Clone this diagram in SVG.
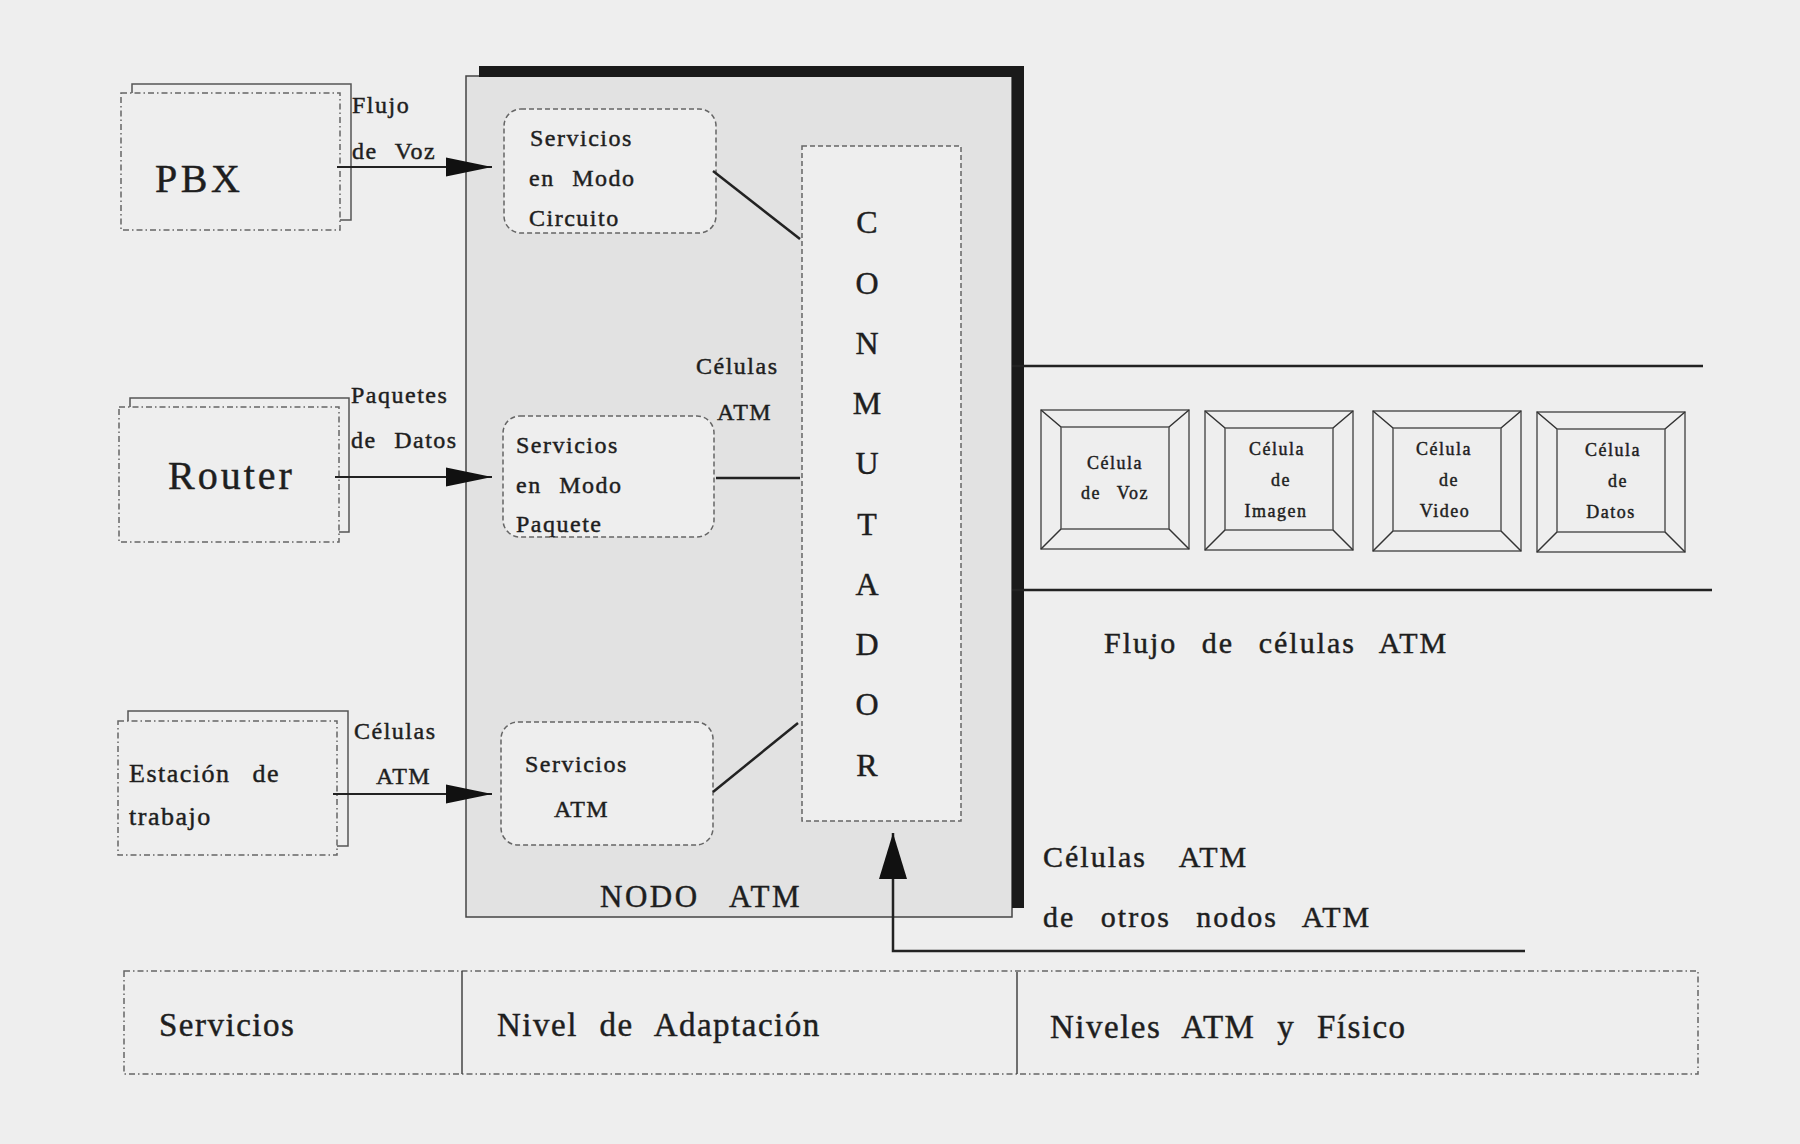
<svg xmlns="http://www.w3.org/2000/svg" width="1800" height="1144" viewBox="0 0 1800 1144">
<style>
text{font-family:"Liberation Serif","Times New Roman",serif;fill:#1e1e1e;stroke:#1e1e1e;stroke-width:0.45px;}
.t24{font-size:24px;letter-spacing:1.5px;word-spacing:10px;}
.t26{font-size:26px;letter-spacing:1.5px;word-spacing:14px;}
.t30{font-size:30px;letter-spacing:2px;word-spacing:15px;}
.t33{font-size:33px;letter-spacing:1.5px;word-spacing:12px;}
.big{font-size:40px;letter-spacing:3.5px;}
.cell{font-size:18px;letter-spacing:1.5px;word-spacing:10px;text-anchor:middle;}
.sw{font-size:32px;text-anchor:middle;}
.back{fill:#eeeeee;stroke:#555;stroke-width:1.5;}
.front{fill:#eeeeee;stroke:#666;stroke-width:1.5;stroke-dasharray:6 3 1.5 3;}
.svc{fill:#eeeeee;stroke:#666;stroke-width:1.5;stroke-dasharray:5 3;}
.line{stroke:#222;stroke-width:2.5;fill:none;}
.thin{stroke:#333;stroke-width:1.5;fill:none;}
</style>
<defs>
<marker id="arr" markerUnits="userSpaceOnUse" markerWidth="46" markerHeight="20" refX="46" refY="10" orient="auto">
<path d="M0,0.5 L46,10 L0,19.5 Z" fill="#111"/>
</marker>
<marker id="arrUp" markerUnits="userSpaceOnUse" markerWidth="46" markerHeight="28" refX="46" refY="14" orient="auto">
<path d="M0,0 L46,14 L0,28 Z" fill="#111"/>
</marker>
</defs>
<rect x="0" y="0" width="1800" height="1144" fill="#eeeeee"/>

<g id="nodo-atm">
<rect x="466" y="76" width="546" height="841" fill="#e2e2e2" stroke="#444" stroke-width="1.5"/>
<polygon points="479,66 1024,66 1024,908 1012,908 1012,77 479,77" fill="#1a1a1a"/>
<text class="t30" x="600" y="907" style="font-size:31px;letter-spacing:2.5px;word-spacing:21px">NODO ATM</text>
<text class="t24" x="696" y="374">Células</text>
<text class="t24" x="717" y="420">ATM</text>
</g>

<g id="pbx">
<rect class="back" x="132" y="84" width="219" height="136"/>
<rect class="front" x="121" y="93" width="219" height="137"/>
<text class="big" x="155" y="192">PBX</text>
</g>

<g id="router">
<rect class="back" x="130" y="398" width="219" height="134"/>
<rect class="front" x="119" y="407" width="220" height="135"/>
<text class="big" x="168" y="489" style="letter-spacing:3px">Router</text>
</g>

<g id="estacion">
<rect class="back" x="128" y="711" width="220" height="135"/>
<rect class="front" x="118" y="721" width="219" height="134"/>
<text class="t26" x="129" y="782">Estación de</text>
<text class="t26" x="129" y="825">trabajo</text>
</g>

<g id="svc-circuito">
<rect class="svc" x="504" y="109" width="212" height="124" rx="17"/>
<text class="t24" x="530" y="146">Servicios</text>
<text class="t24" x="529" y="186">en Modo</text>
<text class="t24" x="529" y="226">Circuito</text>
</g>

<g id="svc-paquete">
<rect class="svc" x="503" y="416" width="211" height="121" rx="17"/>
<text class="t24" x="516" y="453">Servicios</text>
<text class="t24" x="516" y="493">en Modo</text>
<text class="t24" x="516" y="532">Paquete</text>
</g>

<g id="svc-atm">
<rect class="svc" x="501" y="722" width="212" height="123" rx="17"/>
<text class="t24" x="525" y="772">Servicios</text>
<text class="t24" x="554" y="817">ATM</text>
</g>

<g id="conmutador">
<rect class="svc" x="802" y="146" width="159" height="675"/>
<text class="sw" x="867" y="233">C</text>
<text class="sw" x="867" y="294">O</text>
<text class="sw" x="867" y="354">N</text>
<text class="sw" x="867" y="414">M</text>
<text class="sw" x="867" y="474">U</text>
<text class="sw" x="867" y="535">T</text>
<text class="sw" x="867" y="595">A</text>
<text class="sw" x="867" y="655">D</text>
<text class="sw" x="867" y="715">O</text>
<text class="sw" x="867" y="776">R</text>
</g>

<g id="celula-voz">
<rect class="back" x="1041" y="410" width="148" height="139"/>
<rect class="back" x="1061" y="427" width="108" height="102"/>
<path class="thin" d="M1041,410 L1061,427 M1189,410 L1169,427 M1041,549 L1061,529 M1189,549 L1169,529"/>
<text class="cell" x="1115" y="469">Célula</text>
<text class="cell" x="1115" y="499">de Voz</text>
</g>

<g id="celula-imagen">
<rect class="back" x="1205" y="411" width="148" height="139"/>
<rect class="back" x="1225" y="428" width="108" height="102"/>
<path class="thin" d="M1205,411 L1225,428 M1353,411 L1333,428 M1205,550 L1225,530 M1353,550 L1333,530"/>
<text class="cell" x="1277" y="455">Célula</text>
<text class="cell" x="1281" y="486">de</text>
<text class="cell" x="1276" y="517">Imagen</text>
</g>

<g id="celula-video">
<rect class="back" x="1373" y="411" width="148" height="140"/>
<rect class="back" x="1393" y="428" width="108" height="103"/>
<path class="thin" d="M1373,411 L1393,428 M1521,411 L1501,428 M1373,551 L1393,531 M1521,551 L1501,531"/>
<text class="cell" x="1444" y="455">Célula</text>
<text class="cell" x="1449" y="486">de</text>
<text class="cell" x="1445" y="517">Video</text>
</g>

<g id="celula-datos">
<rect class="back" x="1537" y="412" width="148" height="140"/>
<rect class="back" x="1557" y="429" width="108" height="103"/>
<path class="thin" d="M1537,412 L1557,429 M1685,412 L1665,429 M1537,552 L1557,532 M1685,552 L1665,532"/>
<text class="cell" x="1613" y="456">Célula</text>
<text class="cell" x="1618" y="487">de</text>
<text class="cell" x="1611" y="518">Datos</text>
</g>

<g id="flujo-celulas">
<text class="t30" x="1104" y="653">Flujo de células ATM</text>
</g>

<g id="otros-nodos">
<text class="t30" x="1043" y="867" style="word-spacing:24px">Células ATM</text>
<text class="t30" x="1043" y="927" style="word-spacing:16px">de otros nodos ATM</text>
</g>

<g id="tabla-niveles">
<rect x="124" y="971" width="1574" height="103" fill="none" stroke="#666" stroke-width="1.5" style="stroke-dasharray:6 3 1.5 3"/>
<line x1="462" y1="971" x2="462" y2="1074" stroke="#444" stroke-width="1.5"/>
<line x1="1017" y1="972" x2="1017" y2="1074" stroke="#444" stroke-width="1.5"/>
<text class="t33" x="159" y="1036">Servicios</text>
<text class="t33" x="497" y="1036">Nivel de Adaptación</text>
<text class="t33" x="1050" y="1038">Niveles ATM y Físico</text>
</g>

<g id="connectors">
<line class="line" x1="337" y1="167" x2="492" y2="167" style="stroke-width:2" marker-end="url(#arr)"/>
<line class="line" x1="335" y1="477" x2="492" y2="477" style="stroke-width:2" marker-end="url(#arr)"/>
<line class="line" x1="333" y1="794" x2="492" y2="794" style="stroke-width:2" marker-end="url(#arr)"/>
<text class="t24" x="352" y="113">Flujo</text>
<text class="t24" x="352" y="159">de Voz</text>
<text class="t24" x="351" y="403">Paquetes</text>
<text class="t24" x="351" y="448">de Datos</text>
<text class="t24" x="354" y="739">Células</text>
<text class="t24" x="376" y="784">ATM</text>
<line class="line" x1="713" y1="171" x2="800" y2="239"/>
<line class="line" x1="716" y1="478" x2="800" y2="478"/>
<line class="line" x1="713" y1="792" x2="798" y2="723"/>
<line class="line" x1="1012" y1="366" x2="1703" y2="366"/>
<line class="line" x1="1012" y1="590" x2="1712" y2="590"/>
<polyline class="line" points="1525,951 893,951 893,833" marker-end="url(#arrUp)"/>
</g>
</svg>
